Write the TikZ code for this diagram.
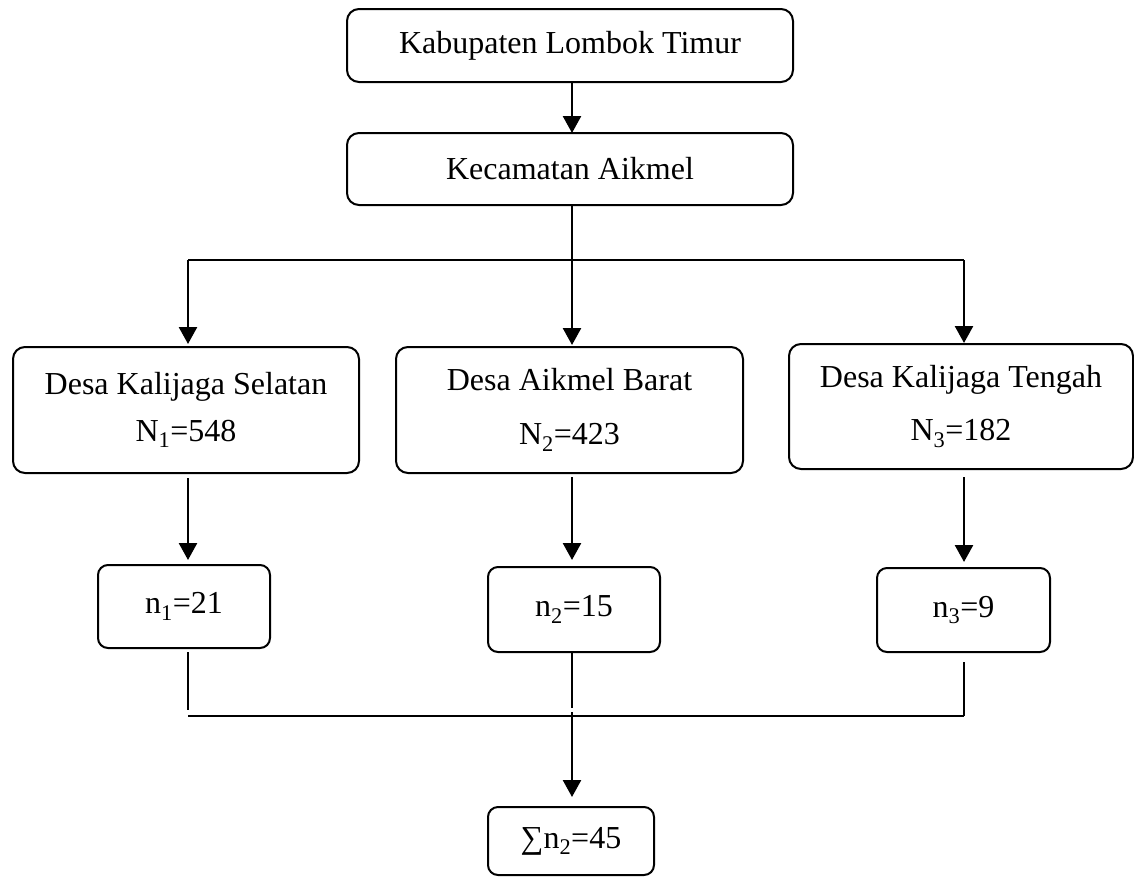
\documentclass[tikz,border=0pt]{standalone}
\usepackage{fontspec}
\setmainfont{Liberation Serif}
\usetikzlibrary{arrows.meta,calc}
\begin{document}
\begin{tikzpicture}[x=1pt,y=-1pt,
  box/.style={draw, line width=2pt, rounded corners=12pt, inner sep=0pt, outer sep=0pt,
    align=center, font=\fontsize{32}{40}\selectfont},
  smallbox/.style={box, rounded corners=10pt},
  conn/.style={line width=2.6pt, -{Triangle[width=18pt,length=17pt]}},
  plainline/.style={line width=2pt}]
\useasboundingbox (0,0) rectangle (1134,876);
% columns
\coordinate (c1) at (188,0);
\coordinate (c2) at (572,0);
\coordinate (c3) at (964,0);
% boxes
\node[box, minimum width=446pt, minimum height=73pt] (kab) at (570,45.5) {Kabupaten Lombok Timur};
\node[box, minimum width=446pt, minimum height=72pt] (kec) at (570,169) {Kecamatan Aikmel};
\node[box, minimum width=346pt, minimum height=126pt] (d1) at (186,410)
  {Desa Kalijaga Selatan\\[7pt]N\textsubscript{1}=548};
\node[box, minimum width=347pt, minimum height=126pt] (d2) at (569.5,410)
  {Desa Aikmel Barat\\[14pt]N\textsubscript{2}=423};
\node[box, minimum width=344pt, minimum height=125pt] (d3) at (961,406.5)
  {Desa Kalijaga Tengah\\[13pt]N\textsubscript{3}=182};
\node[smallbox, minimum width=172pt, minimum height=83pt] (s1) at (184,606.5) {n\textsubscript{1}=21};
\node[smallbox, minimum width=172pt, minimum height=85pt] (s2) at (574,609.5) {n\textsubscript{2}=15};
\node[smallbox, minimum width=173pt, minimum height=84pt] (s3) at (963.5,610) {n\textsubscript{3}=9};
\node[smallbox, minimum width=166pt, minimum height=68pt] (tot) at (571,841) {∑n\textsubscript{2}=45};
% top connectors
\draw[conn] (kab.south -| c2) -- (kec.north -| c2);
\coordinate (jt) at (572,260);
\draw[plainline] (kec.south -| c2) -- (jt);
\coordinate (jl) at (188,260);
\coordinate (jr) at (964,260);
\draw[line width=2.4pt] (jl) -- (jr);
\draw[conn] (jl) -- ($(d1.north -| c1)+(0,-3)$);
\draw[conn] (jt) -- ($(d2.north -| c2)+(0,-2)$);
\draw[conn] (jr) -- ($(d3.north -| c3)+(0,-1)$);
% middle connectors
\draw[conn] ($(d1.south -| c1)+(0,5)$) -- ($(s1.north -| c1)+(0,-5)$);
\draw[conn] ($(d2.south -| c2)+(0,4)$) -- ($(s2.north -| c2)+(0,-7)$);
\draw[conn] ($(d3.south -| c3)+(0,8)$) -- ($(s3.north -| c3)+(0,-6)$);
% bottom connectors
\coordinate (bl) at (188,716);
\coordinate (bm) at (572,716);
\coordinate (br) at (964,716);
\draw[plainline] ($(s1.south -| c1)+(0,4)$) -- ($(bl)+(0,-6)$);
\draw[plainline] ($(s2.south -| c2)+(0,1)$) -- ($(bm)+(0,-8)$);
\draw[plainline] ($(s3.south -| c3)+(0,10)$) -- (br);
\draw[line width=2.4pt] (bl) -- (br);
\draw[conn] ($(bm)+(0,-4)$) -- ($(tot.north -| c2)+(0,-10)$);
\end{tikzpicture}
\end{document}
